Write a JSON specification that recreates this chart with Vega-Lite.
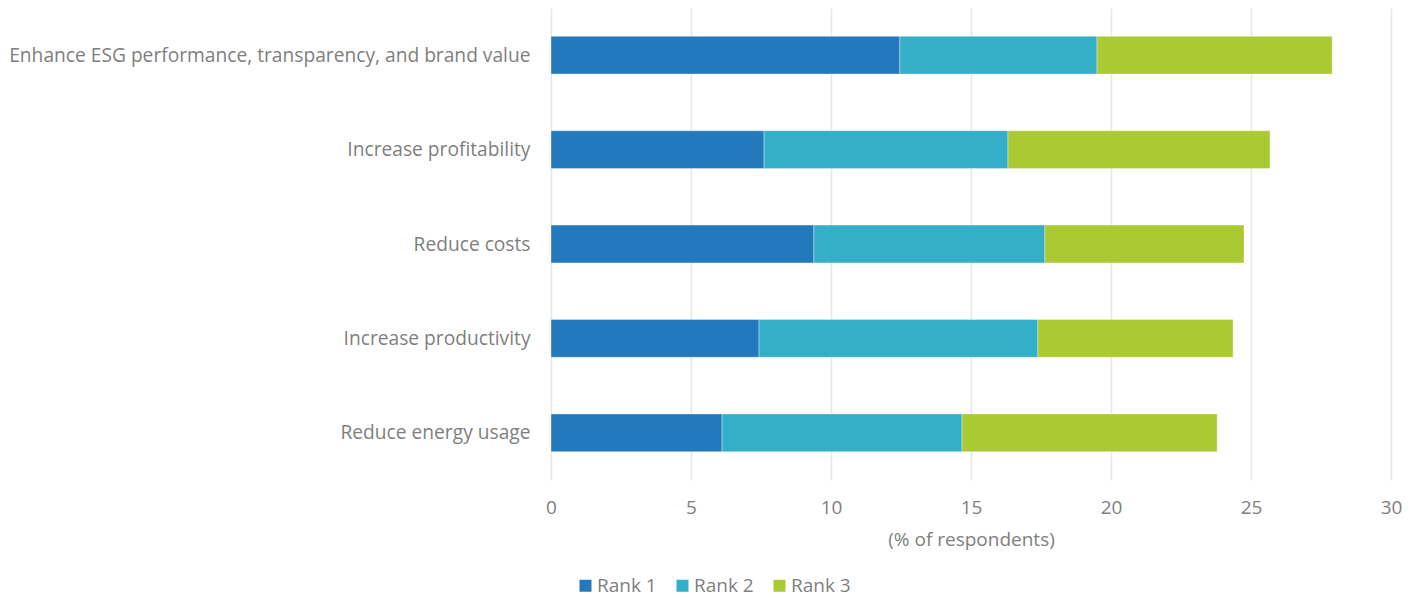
{
  "$schema": "https://vega.github.io/schema/vega-lite/v6.json",
  "width": 840,
  "height": 472,
  "autosize": {"type": "none"},
  "padding": {"left": 551, "top": 8, "right": 27, "bottom": 118},
  "background": "white",
  "config": {
    "view": {"stroke": null},
    "font": "Open Sans",
    "axis": {"labelFont": "Open Sans", "titleFont": "Open Sans", "labelColor": "#7f7f7f", "titleColor": "#7f7f7f"},
    "legend": {"labelFont": "Open Sans", "labelColor": "#7f7f7f"}
  },
  "data": {
    "values": [
      {"goal": "Enhance ESG performance, transparency, and brand value", "rank": "Rank 1", "r": 1, "value": 12.46},
      {"goal": "Enhance ESG performance, transparency, and brand value", "rank": "Rank 2", "r": 2, "value": 7.04},
      {"goal": "Enhance ESG performance, transparency, and brand value", "rank": "Rank 3", "r": 3, "value": 8.4},
      {"goal": "Increase profitability", "rank": "Rank 1", "r": 1, "value": 7.61},
      {"goal": "Increase profitability", "rank": "Rank 2", "r": 2, "value": 8.71},
      {"goal": "Increase profitability", "rank": "Rank 3", "r": 3, "value": 9.36},
      {"goal": "Reduce costs", "rank": "Rank 1", "r": 1, "value": 9.39},
      {"goal": "Reduce costs", "rank": "Rank 2", "r": 2, "value": 8.25},
      {"goal": "Reduce costs", "rank": "Rank 3", "r": 3, "value": 7.11},
      {"goal": "Increase productivity", "rank": "Rank 1", "r": 1, "value": 7.43},
      {"goal": "Increase productivity", "rank": "Rank 2", "r": 2, "value": 9.96},
      {"goal": "Increase productivity", "rank": "Rank 3", "r": 3, "value": 6.97},
      {"goal": "Reduce energy usage", "rank": "Rank 1", "r": 1, "value": 6.11},
      {"goal": "Reduce energy usage", "rank": "Rank 2", "r": 2, "value": 8.57},
      {"goal": "Reduce energy usage", "rank": "Rank 3", "r": 3, "value": 9.11}
    ]
  },
  "mark": {"type": "bar", "stroke": "white", "strokeWidth": 0.6, "strokeOpacity": 0.6},
  "encoding": {
    "y": {
      "field": "goal", "type": "nominal", "sort": null,
      "scale": {"paddingInner": 0.6, "paddingOuter": 0.3},
      "axis": {"title": null, "ticks": false, "domain": false, "labelFontSize": 19.2, "labelPadding": 21, "labelLimit": 600, "labelOffset": 0.5}
    },
    "x": {
      "field": "value", "type": "quantitative", "stack": "zero",
      "scale": {"domain": [0, 30], "nice": false},
      "axis": {
        "title": "(% of respondents)", "titleFontSize": 19, "titleFontWeight": "normal", "titlePadding": 13,
        "values": [0, 5, 10, 15, 20, 25, 30], "labelFontSize": 19, "labelPadding": 18,
        "ticks": false, "domain": false, "grid": true, "gridColor": "#e6e6e6", "gridWidth": 1.5, "labelFlush": false
      }
    },
    "color": {
      "field": "rank", "type": "nominal",
      "scale": {"domain": ["Rank 1", "Rank 2", "Rank 3"], "range": ["#2479bd", "#35aec8", "#abc932"]},
      "legend": {
        "title": null, "orient": "none", "direction": "horizontal", "legendX": 25, "legendY": 568,
        "symbolType": "square", "symbolSize": 144, "labelFontSize": 19, "labelOffset": 2, "columnPadding": 16, "symbolStrokeWidth": 0
      }
    },
    "order": {"field": "r", "type": "quantitative"}
  }
}
